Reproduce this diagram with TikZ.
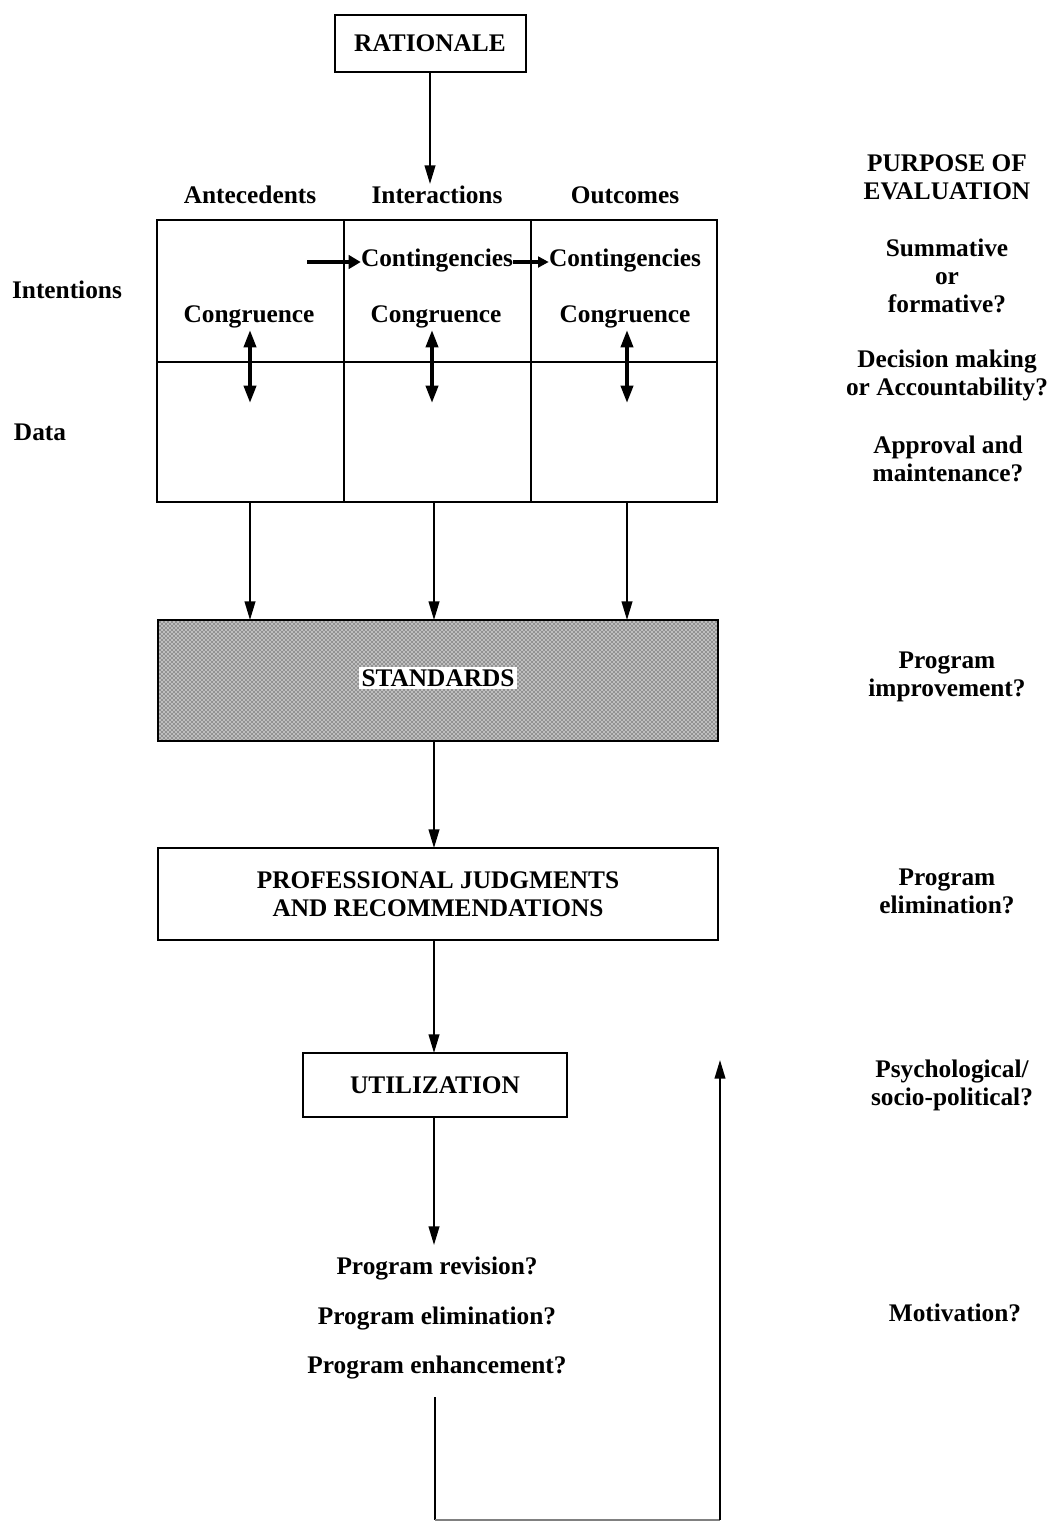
\documentclass[tikz,border=0pt]{standalone}
\usepackage{fontspec}
\setmainfont{Liberation Serif}
\usetikzlibrary{arrows.meta,patterns}
\begin{document}
\begin{tikzpicture}[x=0.75pt,y=-0.75pt,
  every node/.style={font=\bfseries\fontsize{19}{21}\selectfont, inner sep=0pt, align=center},
  boxed/.style={draw, line width=1.2pt},
  conn/.style={line width=1.5pt, -{Triangle[width=8pt,length=14pt]}},
  thickarrow/.style={line width=3.5pt, -{Triangle[width=10pt,length=9pt]}},
  dbl/.style={line width=2.8pt, {Triangle[width=9pt,length=13pt]}-{Triangle[width=9pt,length=13pt]}},
  plain/.style={line width=1.5pt}]
\useasboundingbox (0,0) rectangle (1062,1522);

% Rationale
\draw[boxed] (335,15) rectangle (526,72);
\node (rat) at (430,43) {RATIONALE};
\coordinate (ratb) at (430,72);
\coordinate (gridtop) at (430,184);
\draw[conn] (ratb) -- (gridtop);

% column headings
\node (ant) at (250,195) {Antecedents};
\node (int) at (437,195) {Interactions};
\node (out) at (625,195) {Outcomes};

% grid
\draw[boxed] (157,220) rectangle (717,502);
\draw[line width=1.2pt] (344,220) -- (344,502);
\draw[line width=1.2pt] (531,220) -- (531,502);
\draw[line width=1.5pt] (157,362) -- (717,362);

\node (intent) at (67,290) {Intentions};
\node (data) at (40,432) {Data};

\node (c1) at (437,260) {Contingencies};
\node (c2) at (625,260) {Contingencies};
\coordinate (ca) at (307,262);
\draw[thickarrow] (ca) -- (ca -| c1.west);
\draw[line width=2.5pt, -{Triangle[width=8pt,length=8pt]}] (ca -| c1.east) -- (ca -| c2.west);

\node (g1) at (249,317) {Congruence};
\node (g2) at (436,317) {Congruence};
\node (g3) at (625,317) {Congruence};
\coordinate (d1a) at (250,330); \coordinate (d1b) at (250,403);
\coordinate (d2a) at (432,330); \coordinate (d2b) at (432,403);
\coordinate (d3a) at (627,330); \coordinate (d3b) at (627,403);
\draw[dbl] (d1a) -- (d1b);
\draw[dbl] (d2a) -- (d2b);
\draw[dbl] (d3a) -- (d3b);

% arrows to standards
\coordinate (a1) at (250,502); \coordinate (s1) at (250,620);
\coordinate (a2) at (434,502); \coordinate (s2) at (434,620);
\coordinate (a3) at (627,502); \coordinate (s3) at (627,620);
\draw[conn] (a1) -- (s1);
\draw[conn] (a2) -- (s2);
\draw[conn] (a3) -- (s3);

% standards
\fill[gray!50] (158,620) rectangle (718,741);
\fill[pattern=crosshatch dots, pattern color=black] (158,620) rectangle (718,741);
\draw[boxed] (158,620) rectangle (718,741);
\node[fill=white, inner sep=2pt] (std) at (438,678) {STANDARDS};

\coordinate (sb) at (434,741); \coordinate (pt) at (434,848);
\draw[conn] (sb) -- (pt);

% professional judgments
\node[boxed, minimum width=560*0.75pt, minimum height=92*0.75pt] (prof) at (438,894) {PROFESSIONAL JUDGMENTS\\AND RECOMMENDATIONS};
\coordinate (pb) at (434,940); \coordinate (ut) at (434,1053);
\draw[conn] (pb) -- (ut);

% utilization
\node[boxed, minimum width=264*0.75pt, minimum height=64*0.75pt] (util) at (435,1085) {UTILIZATION};
\coordinate (ub) at (434,1117); \coordinate (rt) at (434,1245);
\draw[conn] (ub) -- (rt);

\node (r1) at (437,1268) {Program revision?};
\node (r2) at (437,1318) {Program elimination?};
\node (r3) at (437,1367) {Program enhancement?};

% feedback loop
\coordinate (l1) at (435,1397);
\coordinate (l2) at (435,1520);
\coordinate (l3) at (720,1520);
\coordinate (l4) at (720,1060);
\draw[plain] (l1) -- (l2);
\draw[line width=0.8pt, gray] (l2) -- (l3);
\draw[conn] (l3) -- (l4);

% right column
\node (p0) at (947,177) {PURPOSE OF\\EVALUATION};
\node (p1) at (947,276) {Summative\\or\\formative?};
\node (p2) at (947,375) {Decision making\\or Accountability?};
\node (p3) at (948,459) {Approval and\\maintenance?};
\node (p4) at (947,677) {Program\\improvement?};
\node (p5) at (947,891) {Program\\elimination?};
\node (p6) at (952,1085) {Psychological/\\socio-political?};
\node (p7) at (955,1313) {Motivation?};
\end{tikzpicture}
\end{document}
